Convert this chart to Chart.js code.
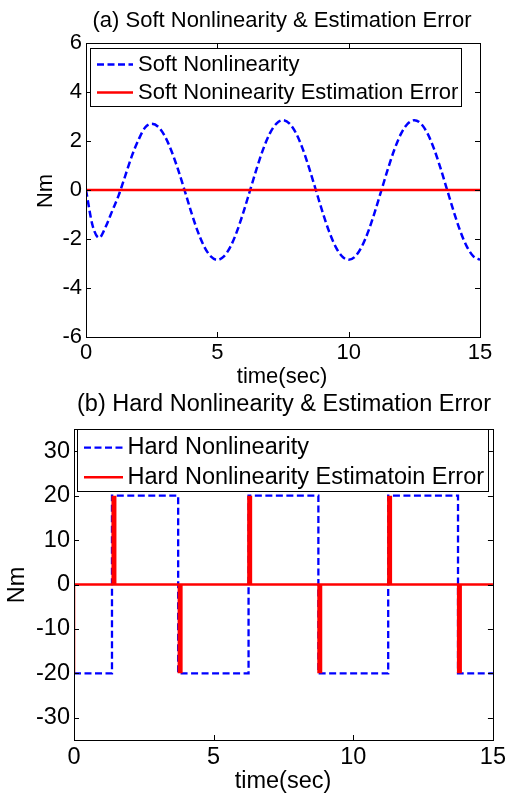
<!DOCTYPE html>
<html><head><meta charset="utf-8">
<script src="https://cdn.jsdelivr.net/npm/chart.js@4.4.0/dist/chart.umd.min.js"></script>
<style>
html,body{margin:0;padding:0;background:#fff;}
#w{position:relative;width:509px;height:796px;overflow:hidden;background:#fff;}
canvas{position:absolute;left:0;}
</style></head><body>
<div id="w">
<canvas id="c1" width="509" height="390" style="top:0px"></canvas>
<canvas id="c2" width="509" height="406" style="top:390px"></canvas>
</div>
<script>
// ---------- data ----------
const softTime = [0,0.25,0.5,0.75,1,1.25,1.5,1.75,2,2.25,2.5,2.75,3,3.25,3.5,3.75,4,4.25,4.5,4.75,5,5.25,5.5,5.75,6,6.25,6.5,6.75,7,7.25,7.5,7.75,8,8.25,8.5,8.75,9,9.25,9.5,9.75,10,10.25,10.5,10.75,11,11.25,11.5,11.75,12,12.25,12.5,12.75,13,13.25,13.5,13.75,14,14.25,14.5,14.75,15];
const softNonlinearity = [0,-1.45,-1.95,-1.5,-0.85,-0.2,0.6,1.4,2.05,2.55,2.7,2.58,2.2,1.6,0.85,0,-0.88,-1.68,-2.31,-2.71,-2.85,-2.71,-2.31,-1.68,-0.88,0,0.88,1.68,2.31,2.71,2.85,2.71,2.31,1.68,0.88,0,-0.88,-1.68,-2.31,-2.71,-2.85,-2.71,-2.31,-1.68,-0.88,0,0.88,1.68,2.31,2.71,2.85,2.71,2.31,1.68,0.88,0,-0.88,-1.68,-2.31,-2.71,-2.85];
const softErrTime = [0,15];
const softErr = [0,0];

const hardTime = [0,1.36,1.36,3.73,3.73,6.25,6.25,8.75,8.75,11.25,11.25,13.75,13.75,15];
const hardNonlinearity = [-20,-20,20,20,-20,-20,20,20,-20,-20,20,20,-20,-20];
const hardErrTime = [0,0,15];
const hardErr = [-20,0,0];
const spikeTime = [1.43,3.80,6.29,8.80,11.30,13.80];
const spikeValue = [20,-20,20,-20,20,-20];

const xTicks = [0,5,10,15];
const softYTicks = [-6,-4,-2,0,2,4,6];
const hardYTicks = [-30,-20,-10,0,10,20,30];

const titles = ['(a) Soft Nonlinearity & Estimation Error','(b) Hard Nonlinearity & Estimation Error'];
const xLabel = 'time(sec)';
const yLabel = 'Nm';
const legendSoft = ['Soft Nonlinearity','Soft Noninearity Estimation Error'];
const legendHard = ['Hard Nonlinearity','Hard Nonlinearity Estimatoin Error'];

// ---------- helpers ----------
const FONT = '"Liberation Sans", Arial, Helvetica, sans-serif';
const BLUE = '#0000ff', RED = '#ff0000';
const pts = (xs, ys) => xs.map((x,i) => ({x, y: ys[i]}));
function spikePts(ts, vs){
  const out = [];
  ts.forEach((t,i)=>{ out.push({x:t,y:0}); out.push({x:t,y:vs[i]}); out.push({x:t,y:null}); });
  return out;
}

const matlabPlugin = {
  id: 'matlab',
  afterDatasetsDraw(chart, args, o) {
    const {ctx, chartArea: a, scales} = chart;
    ctx.save();
    ctx.setLineDash([]);
    ctx.strokeStyle = '#000'; ctx.lineWidth = 1;
    ctx.beginPath();
    scales.x.ticks.forEach(t => {
      const px = Math.round(scales.x.getPixelForValue(t.value)) + 0.5;
      ctx.moveTo(px, a.bottom); ctx.lineTo(px, a.bottom - o.tick);
      ctx.moveTo(px, a.top); ctx.lineTo(px, a.top + o.tick);
    });
    scales.y.ticks.forEach(t => {
      const py = Math.round(scales.y.getPixelForValue(t.value)) + 0.5;
      ctx.moveTo(a.left, py); ctx.lineTo(a.left + o.tick, py);
      ctx.moveTo(a.right, py); ctx.lineTo(a.right - o.tick, py);
    });
    ctx.stroke();
    ctx.strokeRect(Math.round(a.left)+0.5, Math.round(a.top)+0.5, Math.round(a.right-a.left), Math.round(a.bottom-a.top));

    // legend
    const L = o.legend;
    ctx.fillStyle = '#fff';
    ctx.fillRect(L.x, L.y, L.w, L.h);
    ctx.strokeStyle = '#000'; ctx.lineWidth = 1;
    ctx.strokeRect(L.x+0.5, L.y+0.5, L.w, L.h);
    ctx.font = o.fontSize + 'px ' + FONT;
    ctx.textBaseline = 'middle'; ctx.textAlign = 'left';
    let row = 0;
    chart.data.datasets.forEach(ds => {
      if (!ds.label) return;
      const y = L.rows[row++];
      ctx.save();
      ctx.strokeStyle = ds.borderColor; ctx.lineWidth = ds.borderWidth;
      ctx.setLineDash(ds.borderDash || []);
      ctx.beginPath(); ctx.moveTo(L.s0, y); ctx.lineTo(L.s1, y); ctx.stroke();
      ctx.restore();
      ctx.fillStyle = '#000';
      ctx.fillText(ds.label, L.tx, y);
    });

    // titles
    ctx.fillStyle = '#000';
    ctx.textAlign = 'center'; ctx.textBaseline = 'middle';
    ctx.font = o.fontSize + 'px ' + FONT;
    ctx.fillText(o.title, o.titleX, o.titleY);
    ctx.fillText(xLabel, o.xlX, o.xlY);
    ctx.save();
    ctx.translate(o.ylX, o.ylY); ctx.rotate(-Math.PI/2);
    ctx.fillText(yLabel, 0, 0);
    ctx.restore();
    ctx.restore();
  }
};

function axes(ymin, ymax, yTicks, fontSize, yWidth, xPad) {
  return {
    x: {
      type: 'linear', min: 0, max: 15,
      afterBuildTicks: s => { s.ticks = xTicks.map(v => ({value: v})); },
      afterFit: s => { s.height = 30; },
      grid: {display: false, drawTicks: false}, border: {display: false},
      ticks: {color: '#000', font: {family: FONT, size: fontSize}, padding: xPad, maxRotation: 0, autoSkip: false, callback: v => String(v)}
    },
    y: {
      type: 'linear', min: ymin, max: ymax,
      afterBuildTicks: s => { s.ticks = yTicks.map(v => ({value: v})); },
      afterFit: s => { s.width = yWidth; },
      grid: {display: false, drawTicks: false}, border: {display: false},
      ticks: {color: '#000', font: {family: FONT, size: fontSize}, padding: 4, autoSkip: false, callback: v => String(v)}
    }
  };
}

// ---------- chart (a) ----------
new Chart(document.getElementById('c1'), {
  type: 'line',
  data: {
    datasets: [
      {label: legendSoft[0], data: pts(softTime, softNonlinearity), borderColor: BLUE, borderWidth: 2.5, borderDash: [7,3.5], pointRadius: 0, cubicInterpolationMode: 'monotone', fill: false, order: 2},
      {label: legendSoft[1], data: pts(softErrTime, softErr), borderColor: RED, borderWidth: 2.5, pointRadius: 0, tension: 0, fill: false, order: 1}
    ]
  },
  options: {
    responsive: false, animation: false, events: [],
    layout: {padding: {left: 0, top: 43, right: 29, bottom: 23}},
    scales: axes(-6, 6, softYTicks, 22, 86, 3),
    plugins: {
      legend: {display: false}, tooltip: {enabled: false},
      matlab: {
        tick: 5, fontSize: 22, title: titles[0],
        titleX: 282, titleY: 21, xlX: 282, xlY: 377, ylX: 46, ylY: 191,
        legend: {x: 90, y: 48, w: 371, h: 58, s0: 97, s1: 133, tx: 138, rows: [64.5, 92.5]}
      }
    }
  },
  plugins: [matlabPlugin]
});

// ---------- chart (b) ----------
new Chart(document.getElementById('c2'), {
  type: 'line',
  data: {
    datasets: [
      {label: legendHard[0], data: pts(hardTime, hardNonlinearity), borderColor: BLUE, borderWidth: 2.3, borderDash: [7,3.5], pointRadius: 0, tension: 0, fill: false, order: 3},
      {label: legendHard[1], data: pts(hardErrTime, hardErr), borderColor: RED, borderWidth: 2.5, pointRadius: 0, tension: 0, fill: false, order: 2},
      {data: spikePts(spikeTime, spikeValue), borderColor: RED, borderWidth: 5, pointRadius: 0, tension: 0, spanGaps: false, fill: false, order: 1}
    ]
  },
  options: {
    responsive: false, animation: false, events: [],
    layout: {padding: {left: 0, top: 39, right: 14, bottom: 26}},
    scales: axes(-35, 35, hardYTicks, 23.5, 74, 3),
    plugins: {
      legend: {display: false}, tooltip: {enabled: false},
      matlab: {
        tick: 5, fontSize: 23.5, title: titles[1],
        titleX: 284, titleY: 15, xlX: 283, xlY: 392, ylX: 18, ylY: 195,
        legend: {x: 77, y: 39, w: 411, h: 62, s0: 84, s1: 123, tx: 127.5, rows: [57.7, 87.3]}
      }
    }
  },
  plugins: [matlabPlugin]
});
</script>
</body></html>
